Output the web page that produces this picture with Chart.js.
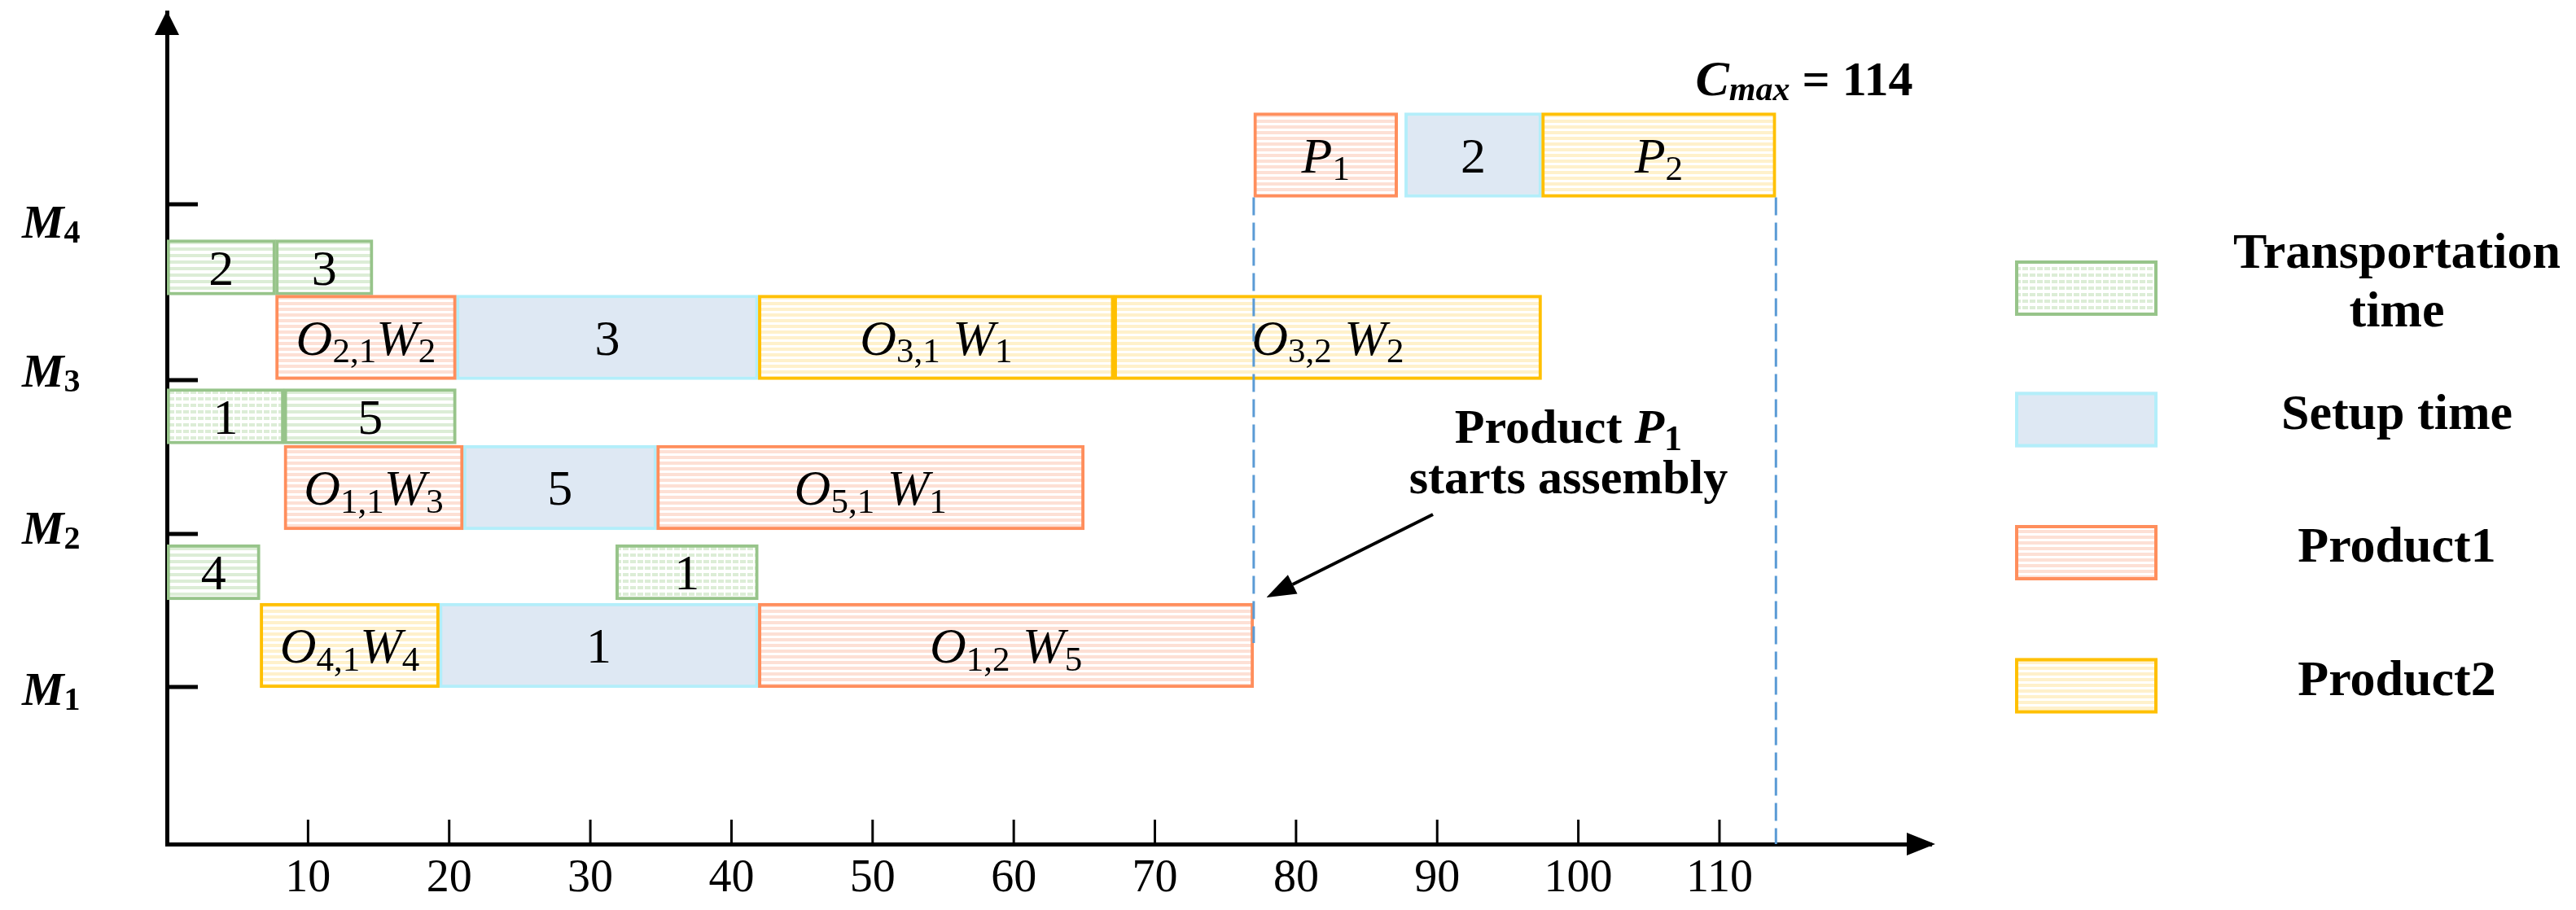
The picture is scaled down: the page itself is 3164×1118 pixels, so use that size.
<!doctype html>
<html lang="en">
<head>
<meta charset="utf-8">
<title>Gantt chart</title>
<style>
  body { margin: 0; background: #fff; }
  canvas { display: block; }
</style>
</head>
<body>
<canvas id="gantt" width="3164" height="1118"></canvas>

<script src="https://cdn.jsdelivr.net/npm/chart.js"></script>
<script>
const FONT = '"Liberation Serif", "Times New Roman", serif';

// machines and where their tick sits on the y axis
const machines = ['M1', 'M2', 'M3', 'M4'];
const machineTicks = [1.93, 3.81, 5.70, 7.86];

// time axis labels
const timeTicks = [10, 20, 30, 40, 50, 60, 70, 80, 90, 100, 110];

// transportation time
const transNames = ['4', '1', '1', '5', '2', '3'];
const transRows  = [3.34, 3.34, 5.255, 5.255, 7.085, 7.085];
const transStart = [0, 31.8, 0, 8.3, 0, 7.7];
const transEnd   = [6.6, 41.9, 8.3, 20.5, 7.7, 14.6];

// setup time
const setupNames = ['1', '5', '3', '2'];
const setupRows  = [2.44, 4.38, 6.225, 8.465];
const setupStart = [19.3, 21.0, 20.5, 87.7];
const setupEnd   = [41.9, 34.7, 41.9, 97.4];

// product 1 operations
const p1Names = ['O_{1,2} W_{5}', 'O_{1,1}W_{3}', 'O_{5,1} W_{1}', 'O_{2,1}W_{2}', 'P_{1}'];
const p1Rows  = [2.44, 4.38, 4.38, 6.225, 8.465];
const p1Start = [41.9, 8.3, 34.7, 7.7, 77];
const p1End   = [77, 21.0, 65.0, 20.5, 87.2];

// product 2 operations
const p2Names = ['O_{4,1}W_{4}', 'O_{3,1} W_{1}', 'O_{3,2} W_{2}', 'P_{2}'];
const p2Rows  = [2.44, 6.225, 6.225, 8.465];
const p2Start = [6.6, 41.9, 67.1, 97.4];
const p2End   = [19.3, 67.1, 97.4, 114];

const assemblyStart = 77;
const cmax = 114;

function bars(names, rows, start, end) {
    return names.map((n, i) => ({ x: [start[i], end[i]], y: rows[i], name: n }));
}

function stripes(color, period, band, dash) {
    const c = document.createElement('canvas');
    c.width = 9;
    c.height = period;
    const g = c.getContext('2d');
    g.fillStyle = '#fff';
    g.fillRect(0, 0, c.width, c.height);
    g.fillStyle = color;
    g.fillRect(0, 0, dash || c.width, band);
    return g.createPattern(c, 'repeat');
}

const greenSolid  = stripes('#DCEDD6', 8, 4);
const greenDashed = stripes('#DCEDD6', 8, 4, 7);
const pinkFill    = stripes('#FDE0D5', 7, 4);
const goldFill    = stripes('#FFF1CB', 7, 4);

function fontOf(s) {
    return (s.it ? 'italic ' : '') + (s.b ? 'bold ' : '') + s.size + 'px ' + FONT;
}

// "O_{2,1}W_{2}" -> italic letters, upright subscripts
function parseLabel(str, size) {
    const segs = [];
    const re = /_\{([^}]*)\}|([A-Za-z]+)|([^_A-Za-z]+)/g;
    let m;
    while ((m = re.exec(str))) {
        if (m[1] !== undefined) segs.push({ t: m[1], size: Math.round(size * 0.7), dy: size * 0.16 });
        else if (m[2]) segs.push({ t: m[2], size: size, it: true });
        else segs.push({ t: m[3], size: size });
    }
    return segs;
}

function drawRich(ctx, segs, x, y, align) {
    let w = 0;
    segs.forEach(s => {
        ctx.font = fontOf(s);
        s.w = ctx.measureText(s.t).width;
        w += s.w;
    });
    let cx = align === 'center' ? x - w / 2 : x;
    ctx.textAlign = 'left';
    ctx.textBaseline = 'alphabetic';
    segs.forEach(s => {
        ctx.font = fontOf(s);
        ctx.fillText(s.t, cx, y + (s.dy || 0));
        cx += s.w;
    });
}

function tri(ctx, x1, y1, x2, y2, x3, y3) {
    ctx.beginPath();
    ctx.moveTo(x1, y1);
    ctx.lineTo(x2, y2);
    ctx.lineTo(x3, y3);
    ctx.closePath();
    ctx.fill();
}

function seg(ctx, x1, y1, x2, y2) {
    ctx.beginPath();
    ctx.moveTo(x1, y1);
    ctx.lineTo(x2, y2);
    ctx.stroke();
}

const decor = {
    id: 'decor',
    afterDatasetsDraw(chart, args, opts) {
        const ctx = chart.ctx;
        const xs = chart.scales.x;
        const ys = chart.scales.y;
        const a = chart.chartArea;
        ctx.save();
        ctx.fillStyle = '#000';
        ctx.strokeStyle = '#000';

        // tick marks drawn on the inner side of both axes
        ctx.lineWidth = 3;
        xs.ticks.forEach(t => {
            const px = xs.getPixelForValue(t.value);
            seg(ctx, px, a.bottom, px, a.bottom - 30);
        });
        ctx.lineWidth = 5;
        ys.ticks.forEach(t => {
            const py = ys.getPixelForValue(t.value);
            seg(ctx, a.left, py, a.left + 38, py);
        });

        // axis arrows
        tri(ctx, a.left, a.top - 2, a.left - 15, a.top + 28, a.left + 15, a.top + 28);
        tri(ctx, a.right + 5, a.bottom, a.right - 30, a.bottom - 14, a.right - 30, a.bottom + 14);

        // machine names
        machines.forEach((m, i) => {
            const py = ys.getPixelForValue(machineTicks[i]) + opts.labelDrop[i];
            drawRich(ctx, [
                { t: m.charAt(0), size: 58, it: true, b: true },
                { t: m.slice(1), size: 40, b: true, dy: 6 }
            ], a.left - 178, py, 'left');
        });

        // text inside the bars
        chart.data.datasets.forEach((ds, di) => {
            chart.getDatasetMeta(di).data.forEach((el, j) => {
                const p = el.getProps(['x', 'base', 'y'], true);
                drawRich(ctx, parseLabel(ds.data[j].name, 62), (p.x + p.base) / 2, p.y + 21, 'center');
            });
        });

        // dashed guide lines
        ctx.save();
        ctx.setLineDash([22, 9]);
        ctx.strokeStyle = '#5B9BD5';
        ctx.lineWidth = 3;
        const top = ys.getPixelForValue(p1Rows[4]) + 52;
        seg(ctx, xs.getPixelForValue(assemblyStart), top, xs.getPixelForValue(assemblyStart), ys.getPixelForValue(opts.guideEnd));
        seg(ctx, xs.getPixelForValue(cmax), top, xs.getPixelForValue(cmax), a.bottom);
        ctx.restore();

        // annotation arrow
        const x1 = xs.getPixelForValue(opts.arrowFrom[0]), y1 = ys.getPixelForValue(opts.arrowFrom[1]);
        const x2 = xs.getPixelForValue(opts.arrowTo[0]), y2 = ys.getPixelForValue(opts.arrowTo[1]);
        const ang = Math.atan2(y2 - y1, x2 - x1);
        const hx = x2 - 36 * Math.cos(ang), hy = y2 - 36 * Math.sin(ang);
        ctx.lineWidth = 4;
        seg(ctx, x1, y1, hx, hy);
        tri(ctx, x2, y2,
            hx + 13 * Math.sin(ang), hy - 13 * Math.cos(ang),
            hx - 13 * Math.sin(ang), hy + 13 * Math.cos(ang));

        const tx = xs.getPixelForValue(opts.noteAt[0]);
        drawRich(ctx, [
            { t: 'Product ', size: 60, b: true },
            { t: 'P', size: 60, b: true, it: true },
            { t: '1', size: 44, b: true, dy: 9 }
        ], tx, ys.getPixelForValue(opts.noteAt[1]), 'center');
        drawRich(ctx, [{ t: 'starts assembly', size: 60, b: true }],
            tx, ys.getPixelForValue(opts.noteAt[2]), 'center');

        // makespan
        drawRich(ctx, [
            { t: 'C', size: 62, b: true, it: true },
            { t: 'max', size: 42, b: true, it: true, dy: 6 },
            { t: ' = ' + cmax, size: 60, b: true }
        ], xs.getPixelForValue(opts.cmaxAt[0]), ys.getPixelForValue(opts.cmaxAt[1]), 'left');

        // legend
        const L = opts.legend;
        chart.data.datasets.forEach((ds, i) => {
            const cy = L.rows[i];
            ctx.fillStyle = ds.swatch;
            ctx.fillRect(L.x, cy - L.h / 2, L.w, L.h);
            ctx.strokeStyle = ds.borderColor;
            ctx.lineWidth = 4;
            ctx.strokeRect(L.x + 2, cy - L.h / 2 + 2, L.w - 4, L.h - 4);

            ctx.fillStyle = '#000';
            ctx.font = 'bold ' + L.size + 'px ' + FONT;
            let lines = [ds.label];
            if (ctx.measureText(ds.label).width > 440) {
                const k = ds.label.lastIndexOf(' ');
                lines = [ds.label.slice(0, k), ds.label.slice(k + 1)];
            }
            lines.forEach((txt, k) => {
                const by = cy + 11 + (k - (lines.length - 1) / 2) * 72;
                drawRich(ctx, [{ t: txt, size: L.size, b: true }], L.textX, by, 'center');
            });
        });

        ctx.restore();
    }
};

new Chart(document.getElementById('gantt'), {
    type: 'bar',
    data: {
        datasets: [{
            label: 'Transportation time',
            data: bars(transNames, transRows, transStart, transEnd),
            backgroundColor: c => (c.raw && c.raw.name === '1') ? greenDashed : greenSolid,
            swatch: greenDashed,
            borderColor: '#97C48A',
            barThickness: 68,
            maxBarThickness: 68,
            order: 2
        }, {
            label: 'Setup time',
            data: bars(setupNames, setupRows, setupStart, setupEnd),
            backgroundColor: '#DEE8F3',
            swatch: '#DEE8F3',
            borderColor: '#B3EEFA',
            barThickness: 104,
            maxBarThickness: 104,
            order: 3
        }, {
            label: 'Product1',
            data: bars(p1Names, p1Rows, p1Start, p1End),
            backgroundColor: pinkFill,
            swatch: pinkFill,
            borderColor: '#FF8E5C',
            barThickness: 104,
            maxBarThickness: 104,
            order: 0
        }, {
            label: 'Product2',
            data: bars(p2Names, p2Rows, p2Start, p2End),
            backgroundColor: goldFill,
            swatch: goldFill,
            borderColor: '#FFC000',
            barThickness: 104,
            maxBarThickness: 104,
            order: 1
        }]
    },
    options: {
        indexAxis: 'y',
        responsive: false,
        animation: false,
        devicePixelRatio: 1,
        grouped: false,
        borderWidth: 4,
        borderSkipped: false,
        categoryPercentage: 1,
        barPercentage: 1.6,
        layout: { padding: { left: 205, right: 792, top: 15, bottom: 0 } },
        scales: {
            x: {
                type: 'linear',
                min: 0,
                max: 125,
                afterFit: s => { s.height = 81; },
                afterBuildTicks: s => { s.ticks = timeTicks.map(v => ({ value: v })); },
                grid: { drawOnChartArea: false, drawTicks: false },
                border: { width: 5, color: '#000' },
                ticks: { padding: 10, color: '#000', maxRotation: 0, autoSkip: false, font: { family: FONT, size: 56 } }
            },
            y: {
                type: 'linear',
                min: 0,
                max: 10.22,
                offset: false,
                afterFit: s => { s.width = 0; },
                afterBuildTicks: s => { s.ticks = machineTicks.map(v => ({ value: v })); },
                grid: { drawOnChartArea: false, drawTicks: false, offset: false },
                border: { width: 5, color: '#000' },
                ticks: { display: false }
            }
        },
        plugins: {
            legend: { display: false },
            tooltip: { enabled: false },
            decor: {
                labelDrop: [22, 12, 7.5, 40.5],
                guideEnd: 2.47,
                arrowFrom: [89.7, 4.05],
                arrowTo: [77.9, 3.03],
                noteAt: [99.3, 4.93, 4.31],
                cmaxAt: [108.3, 9.2],
                legend: { x: 2475, w: 175, h: 68, rows: [354, 515.5, 679, 842.5], textX: 2944, size: 62 }
            }
        }
    },
    plugins: [decor]
});
</script>
</body>
</html>
